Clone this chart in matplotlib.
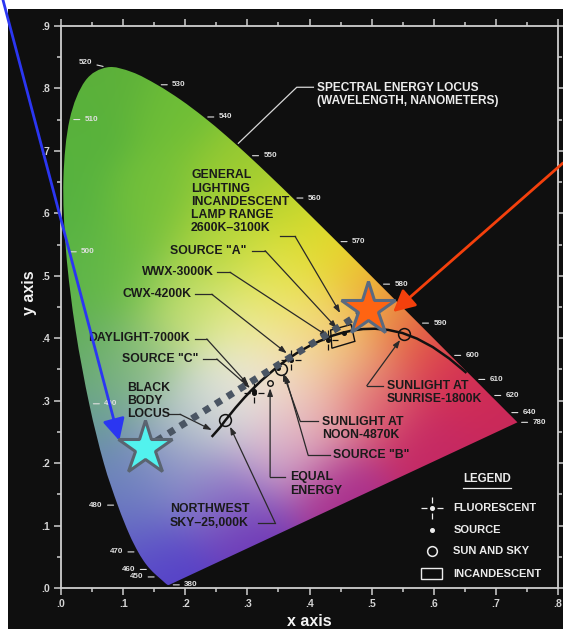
import numpy as np
import matplotlib
matplotlib.use("Agg")
import matplotlib.pyplot as plt
from matplotlib.patches import Polygon, Rectangle, PathPatch
from matplotlib.path import Path

plt.rcParams['font.family'] = ['Liberation Sans', 'DejaVu Sans']
plt.rcParams['font.weight'] = 'bold'

# CIE 1931 2-degree spectral locus (chromaticity x, y)
wavelength = [380, 385, 390, 395, 400, 405, 410, 415, 420, 425, 430, 435, 440, 445,
              450, 455, 460, 465, 470, 475, 480, 485, 490, 495, 500, 505, 510, 515,
              520, 525, 530, 535, 540, 545, 550, 555, 560, 565, 570, 575, 580, 585,
              590, 595, 600, 605, 610, 615, 620, 625, 630, 635, 640, 645, 650, 655,
              660, 670, 680, 700, 780]
locus_x = [0.1741, 0.1740, 0.1738, 0.1736, 0.1733, 0.1730, 0.1726, 0.1721, 0.1714, 0.1703,
           0.1689, 0.1669, 0.1644, 0.1611, 0.1566, 0.1510, 0.1440, 0.1355, 0.1241, 0.1096,
           0.0913, 0.0687, 0.0454, 0.0235, 0.0082, 0.0039, 0.0139, 0.0389, 0.0743, 0.1142,
           0.1547, 0.1929, 0.2296, 0.2658, 0.3016, 0.3373, 0.3731, 0.4087, 0.4441, 0.4788,
           0.5125, 0.5448, 0.5752, 0.6029, 0.6270, 0.6482, 0.6658, 0.6801, 0.6915, 0.7006,
           0.7079, 0.7140, 0.7190, 0.7230, 0.7260, 0.7283, 0.7300, 0.7320, 0.7334, 0.7347,
           0.7347]
locus_y = [0.0050, 0.0050, 0.0049, 0.0049, 0.0048, 0.0048, 0.0048, 0.0048, 0.0051, 0.0058,
           0.0069, 0.0086, 0.0109, 0.0138, 0.0177, 0.0227, 0.0297, 0.0399, 0.0578, 0.0868,
           0.1327, 0.2007, 0.2950, 0.4127, 0.5384, 0.6548, 0.7502, 0.8120, 0.8338, 0.8262,
           0.8059, 0.7816, 0.7543, 0.7243, 0.6923, 0.6589, 0.6245, 0.5896, 0.5547, 0.5202,
           0.4866, 0.4544, 0.4242, 0.3965, 0.3725, 0.3514, 0.3340, 0.3197, 0.3083, 0.2993,
           0.2920, 0.2859, 0.2809, 0.2770, 0.2740, 0.2717, 0.2700, 0.2680, 0.2666, 0.2653,
           0.2653]

# Black body (Planckian) locus
bb_temp = [1000, 1200, 1400, 1600, 1800, 2000, 2200, 2400, 2600, 2800, 3000, 3500,
           4000, 4500, 5000, 6000, 7000, 8000, 10000, 15000, 20000, 40000]
bb_x = [0.6527, 0.6251, 0.5985, 0.5732, 0.5497, 0.5267, 0.5056, 0.4862, 0.4685, 0.4525,
        0.4369, 0.4053, 0.3805, 0.3608, 0.3451, 0.3221, 0.3064, 0.2952, 0.2807, 0.2637,
        0.2565, 0.2425]
bb_y = [0.3445, 0.3674, 0.3858, 0.3993, 0.4083, 0.4133, 0.4152, 0.4147, 0.4123, 0.4086,
        0.4041, 0.3907, 0.3768, 0.3636, 0.3516, 0.3318, 0.3166, 0.3048, 0.2884, 0.2674,
        0.2577, 0.2420]

# Wavelengths labelled along the locus
tick_wl = [380, 450, 460, 470, 480, 490, 500, 510, 520, 530, 540, 550, 560, 570,
           580, 590, 600, 610, 620, 640, 780]

# Light sources
fluor_names = ['DAYLIGHT-7000K', 'CWX-4200K', 'WWX-3000K']
fluor_x = [0.310, 0.370, 0.430]
fluor_y = [0.313, 0.365, 0.397]

source_names = ['A', 'B', 'C']
source_x = [0.455, 0.349, 0.310]
source_y = [0.408, 0.352, 0.315]

sun_names = ['NORTHWEST SKY-25,000K', 'NOON-4870K', 'SUNRISE-1800K']
sun_x = [0.264, 0.354, 0.552]
sun_y = [0.269, 0.351, 0.406]

equal_x = [0.336]
equal_y = [0.328]

incand_x = [0.434, 0.467, 0.473, 0.436]
incand_y = [0.413, 0.422, 0.395, 0.384]

star_cyan_xy = (0.135, 0.224)
star_orange_xy = (0.494, 0.447)

# Colour field anchors: x, y, r, g, b
field = np.array([
    [0.080, 0.840, 92, 176, 58], [0.010, 0.740, 88, 178, 60], [0.005, 0.600, 86, 178, 64],
    [0.010, 0.500, 92, 180, 74], [0.030, 0.380, 98, 172, 96], [0.050, 0.280, 104, 158, 150],
    [0.080, 0.180, 104, 132, 182], [0.100, 0.100, 100, 108, 196], [0.140, 0.030, 94, 78, 200],
    [0.175, 0.000, 80, 58, 200], [0.300, 0.080, 108, 52, 182], [0.450, 0.150, 168, 45, 140],
    [0.600, 0.220, 196, 40, 100], [0.735, 0.265, 200, 40, 90], [0.660, 0.335, 210, 45, 85],
    [0.600, 0.400, 222, 72, 75], [0.550, 0.450, 235, 130, 60], [0.500, 0.500, 240, 190, 50],
    [0.440, 0.555, 228, 222, 40], [0.370, 0.625, 190, 213, 45], [0.300, 0.690, 150, 202, 50],
    [0.200, 0.780, 110, 190, 55], [0.150, 0.600, 115, 192, 58], [0.250, 0.550, 182, 214, 58],
    [0.350, 0.500, 228, 228, 70], [0.200, 0.450, 198, 224, 115], [0.300, 0.420, 235, 236, 150],
    [0.400, 0.420, 245, 225, 110], [0.460, 0.380, 240, 190, 120], [0.310, 0.320, 240, 236, 234],
    [0.250, 0.300, 215, 225, 215], [0.200, 0.250, 175, 190, 200], [0.150, 0.180, 130, 140, 200],
    [0.250, 0.150, 140, 120, 200], [0.350, 0.220, 210, 170, 205], [0.400, 0.280, 235, 180, 180],
    [0.500, 0.300, 220, 90, 110], [0.120, 0.350, 140, 190, 130], [0.100, 0.500, 105, 188, 68],
    [0.380, 0.350, 245, 225, 200],
])


def smooth_outline(xs, ys):
    """Closed path: Catmull-Rom curve through the locus, straight purple line back."""
    pts = np.column_stack([xs, ys])
    keep = np.r_[True, np.any(np.diff(pts, axis=0) != 0, axis=1)]
    pts = pts[keep]
    ext = np.vstack([pts[0], pts, pts[-1]])
    verts = [pts[0]]
    codes = [Path.MOVETO]
    for i in range(1, len(ext) - 2):
        p0, p1, p2, p3 = ext[i - 1], ext[i], ext[i + 1], ext[i + 2]
        verts += [p1 + (p2 - p0) / 6, p2 - (p3 - p1) / 6, p2]
        codes += [Path.CURVE4] * 3
    verts += [pts[0], pts[0]]
    codes += [Path.LINETO, Path.CLOSEPOLY]
    return Path(np.array(verts), codes)


fig = plt.figure(figsize=(5.63, 6.29), dpi=100)
fig.patch.set_facecolor('white')
fig.add_artist(Rectangle((8 / 563, 0), 1, 1 - 9 / 629, transform=fig.transFigure,
                         facecolor='#0f0f0f', edgecolor='none', zorder=0))

ax = fig.add_axes([61 / 563, 41 / 629, 497 / 563, 562 / 629])
ax.set_facecolor('#0f0f0f')
ax.set_xlim(0, 0.8)
ax.set_ylim(0, 0.9)

# Coloured horseshoe
gx = np.linspace(0, 0.8, 401)
gy = np.linspace(0, 0.9, 451)
GX, GY = np.meshgrid(gx, gy)
d2 = (GX[..., None] - field[:, 0]) ** 2 + (GY[..., None] - field[:, 1]) ** 2
w = np.exp(-d2 / (2 * 0.055 ** 2)) + 1e-300
rgb = (w @ field[:, 2:]) / w.sum(axis=-1, keepdims=True) / 255.0
im = ax.imshow(np.clip(rgb, 0, 1), extent=(0, 0.8, 0, 0.9), origin='lower',
               interpolation='bilinear', aspect='auto', zorder=1)
shape = PathPatch(smooth_outline(locus_x, locus_y), facecolor='none', edgecolor='none',
                  transform=ax.transData)
ax.add_patch(shape)
im.set_clip_path(shape)

# Frame and ticks
frame_col = '#cfcfcf'
for s in ax.spines.values():
    s.set_color(frame_col)
    s.set_linewidth(1.3)
ax.set_xticks(np.arange(0, 0.81, 0.1))
ax.set_xticks(np.arange(0.05, 0.8, 0.1), minor=True)
ax.set_yticks(np.arange(0, 0.91, 0.1))
ax.set_yticks(np.arange(0.05, 0.9, 0.1), minor=True)
ax.set_xticklabels(['.%d' % round(v * 10) for v in ax.get_xticks()])
ax.set_yticklabels(['.%d' % round(v * 10) for v in ax.get_yticks()])
ax.tick_params(which='both', direction='out', colors=frame_col, labelcolor='#d4d4d4',
               labelsize=7.5, top=True, right=True, width=1.1)
ax.tick_params(which='major', length=5, pad=3)
ax.tick_params(which='minor', length=3)
fig.text(309 / 563, 1 - 621 / 629, 'x axis', color='#f2f2f2', fontsize=11.5,
         ha='center', va='center')
fig.text(30 / 563, 1 - 293 / 629, 'y axis', color='#f2f2f2', fontsize=11.5,
         ha='center', va='center', rotation=90)

# Wavelength labels
left_side = {450, 460, 470, 480, 520}
for wl in tick_wl:
    i = wavelength.index(wl)
    side = -1 if wl in left_side else 1
    dy = 5 if wl == 520 else 0
    ax.annotate(str(wl), xy=(locus_x[i], locus_y[i]), xytext=(side * 15, dy),
                textcoords='offset pixels', ha='right' if side < 0 else 'left',
                va='center', fontsize=5.8, color='#e0e0e0', zorder=5,
                arrowprops=dict(arrowstyle='-', color='#e0e0e0', lw=0.8,
                                shrinkA=1.5, shrinkB=3))

# Black body locus
ax.plot(bb_x, bb_y, color='#111111', lw=1.8, zorder=3, solid_capstyle='butt')

# Markers
cross = Path([(-1, 0), (-0.45, 0), (0.45, 0), (1, 0), (0, -1), (0, -0.45), (0, 0.45), (0, 1)],
             [Path.MOVETO, Path.LINETO] * 4)
ax.plot(fluor_x, fluor_y, ls='none', marker=cross, ms=14, mec='#111111', mfc='none',
        mew=0.9, zorder=4)
ax.plot(fluor_x + source_x, fluor_y + source_y, ls='none', marker='o', ms=2.6,
        mfc='#111111', mec='#111111', zorder=4)
ax.plot(sun_x, sun_y, ls='none', marker='o', ms=8.5, mfc='none', mec='#111111',
        mew=1.1, zorder=4)
ax.plot(equal_x, equal_y, ls='none', marker='o', ms=4, mfc='none', mec='#111111',
        mew=1.0, zorder=4)
ax.add_patch(Polygon(np.column_stack([incand_x, incand_y]), closed=True, facecolor='none',
                     edgecolor='#111111', lw=1.0, zorder=4))

# Callouts: text, anchor, alignment, leader path
callouts = [
    ('GENERAL\nLIGHTING\nINCANDESCENT\nLAMP RANGE\n2600K\u20133100K', (0.2093, 0.6187), 'left',
     [(0.3527, 0.5631), (0.3768, 0.5631), (0.4493, 0.4404)]),
    ('SOURCE "A"', (0.2985, 0.5402), 'right',
     [(0.3071, 0.5402), (0.3285, 0.5402), (0.4440, 0.4159)]),
    ('WWX-3000K', (0.2453, 0.5056), 'right',
     [(0.2507, 0.5056), (0.2721, 0.5056), (0.4304, 0.4025)]),
    ('CWX-4200K', (0.2105, 0.4704), 'right',
     [(0.2158, 0.4704), (0.2427, 0.4704), (0.3634, 0.3759)]),
    ('DAYLIGHT-7000K', (0.2077, 0.3999), 'right',
     [(0.2158, 0.3988), (0.2346, 0.3988), (0.3016, 0.3251)]),
    ('SOURCE "C"', (0.2211, 0.3667), 'right',
     [(0.2291, 0.3667), (0.2507, 0.3667), (0.3043, 0.3203)]),
    ('BLACK\nBODY\nLOCUS', (0.1058, 0.2997), 'left',
     [(0.1728, 0.2782), (0.1916, 0.2782), (0.2427, 0.2530)]),
    ('NORTHWEST\nSKY\u201325,000K', (0.1755, 0.1153), 'left',
     [(0.3177, 0.1046), (0.3446, 0.1046), (0.2721, 0.2583)]),
    ('EQUAL\nENERGY', (0.3688, 0.1666), 'left',
     [(0.3607, 0.1782), (0.3366, 0.1782), (0.3366, 0.3198)]),
    ('SUNLIGHT AT\nNOON-4870K', (0.4198, 0.2557), 'left',
     [(0.4139, 0.2675), (0.3849, 0.2675), (0.3575, 0.3443)]),
    ('SOURCE "B"', (0.4385, 0.2130), 'left',
     [(0.4332, 0.2130), (0.3977, 0.2130), (0.3607, 0.3411)]),
    ('SUNLIGHT AT\nSUNRISE-1800K', (0.5245, 0.3126), 'left',
     [(0.5190, 0.3240), (0.4923, 0.3240), (0.5459, 0.3972)]),
]
lead_col = '#2a2a2a'
for text, (tx, ty), ha, path in callouts:
    ax.text(tx, ty, text, ha=ha, va='center', fontsize=8.8, color='#1a1a1a',
            linespacing=1.12, zorder=5)
    (x0, y0), (x1, y1), (x2, y2) = path
    ax.plot([x0, x1], [y0, y1], color=lead_col, lw=0.9, zorder=4)
    ax.annotate('', xy=(x2, y2), xytext=(x1, y1),
                arrowprops=dict(arrowstyle='-|>,head_length=0.5,head_width=0.18',
                                color=lead_col, lw=0.9, shrinkA=0, shrinkB=0,
                                mutation_scale=9), zorder=4)

# Spectral locus caption
ax.text(0.4127, 0.7904, 'SPECTRAL ENERGY LOCUS\n(WAVELENGTH, NANOMETERS)', ha='left',
        va='center', fontsize=8.6, color='#ececec', linespacing=1.12, zorder=5)
ax.plot([0.4063, 0.3795, 0.2855], [0.8019, 0.8019, 0.7122], color='#d8d8d8', lw=0.9,
        zorder=4)

# Legend
leg_col = '#ececec'
ax.text(0.6855, 0.1746, 'LEGEND', ha='center', va='center', fontsize=8.3,
        color=leg_col, zorder=5)
ax.plot([0.647, 0.724], [0.1602, 0.1602], color=leg_col, lw=0.9, zorder=5)
sym_x = 0.597
lab_x = 0.6317
rows = [0.1286, 0.0929, 0.0597, 0.0231]
ax.plot([sym_x], [rows[0]], ls='none', marker=cross, ms=16, mec=leg_col, mfc='none',
        mew=0.9, zorder=5)
ax.plot([sym_x, sym_x], [rows[0], rows[1]], ls='none', marker='o', ms=2.6, mfc=leg_col,
        mec=leg_col, zorder=5)
ax.plot([sym_x], [rows[2]], ls='none', marker='o', ms=7, mfc='none', mec=leg_col,
        mew=1.1, zorder=5)
ax.add_patch(Rectangle((0.5792, 0.0139), 0.0348, 0.0181, facecolor='none',
                       edgecolor=leg_col, lw=1.0, zorder=5))
for lab, ry in zip(['FLUORESCENT', 'SOURCE', 'SUN AND SKY', 'INCANDESCENT'], rows):
    ax.text(lab_x, ry, lab, ha='left', va='center', fontsize=8, color=leg_col, zorder=5)

# Link between the two highlighted points
ax.plot([star_cyan_xy[0], star_orange_xy[0]], [star_cyan_xy[1], star_orange_xy[1]],
        color='#4a5563', lw=5, ls=(0, (1, 1)), dash_capstyle='butt', zorder=6)

# Pointer arrows
ax.annotate('', xy=(0.0939, 0.2359), xycoords='data', xytext=(3 / 563, 1.0),
            textcoords='figure fraction', annotation_clip=False,
            arrowprops=dict(arrowstyle='-|>,head_length=0.55,head_width=0.28',
                            color='#2b36f2', lw=2, shrinkA=0, shrinkB=0,
                            mutation_scale=24), zorder=7)
ax.annotate('', xy=(0.5346, 0.4420), xycoords='data', xytext=(1.0, 1 - 163 / 629),
            textcoords='figure fraction', annotation_clip=False,
            arrowprops=dict(arrowstyle='-|>,head_length=0.55,head_width=0.28',
                            color='#f4400c', lw=2, shrinkA=0, shrinkB=0,
                            mutation_scale=24), zorder=7)

# Stars
ax.plot(*star_cyan_xy, marker='*', ms=41, mfc='#52f2ee', mec='#5a6470', mew=2.2,
        zorder=8, clip_on=False)
ax.plot(*star_orange_xy, marker='*', ms=41, mfc='#ff6412', mec='#5a6a80', mew=2.2,
        zorder=8, clip_on=False)

fig.savefig('out.png', dpi=100, facecolor=fig.get_facecolor())
